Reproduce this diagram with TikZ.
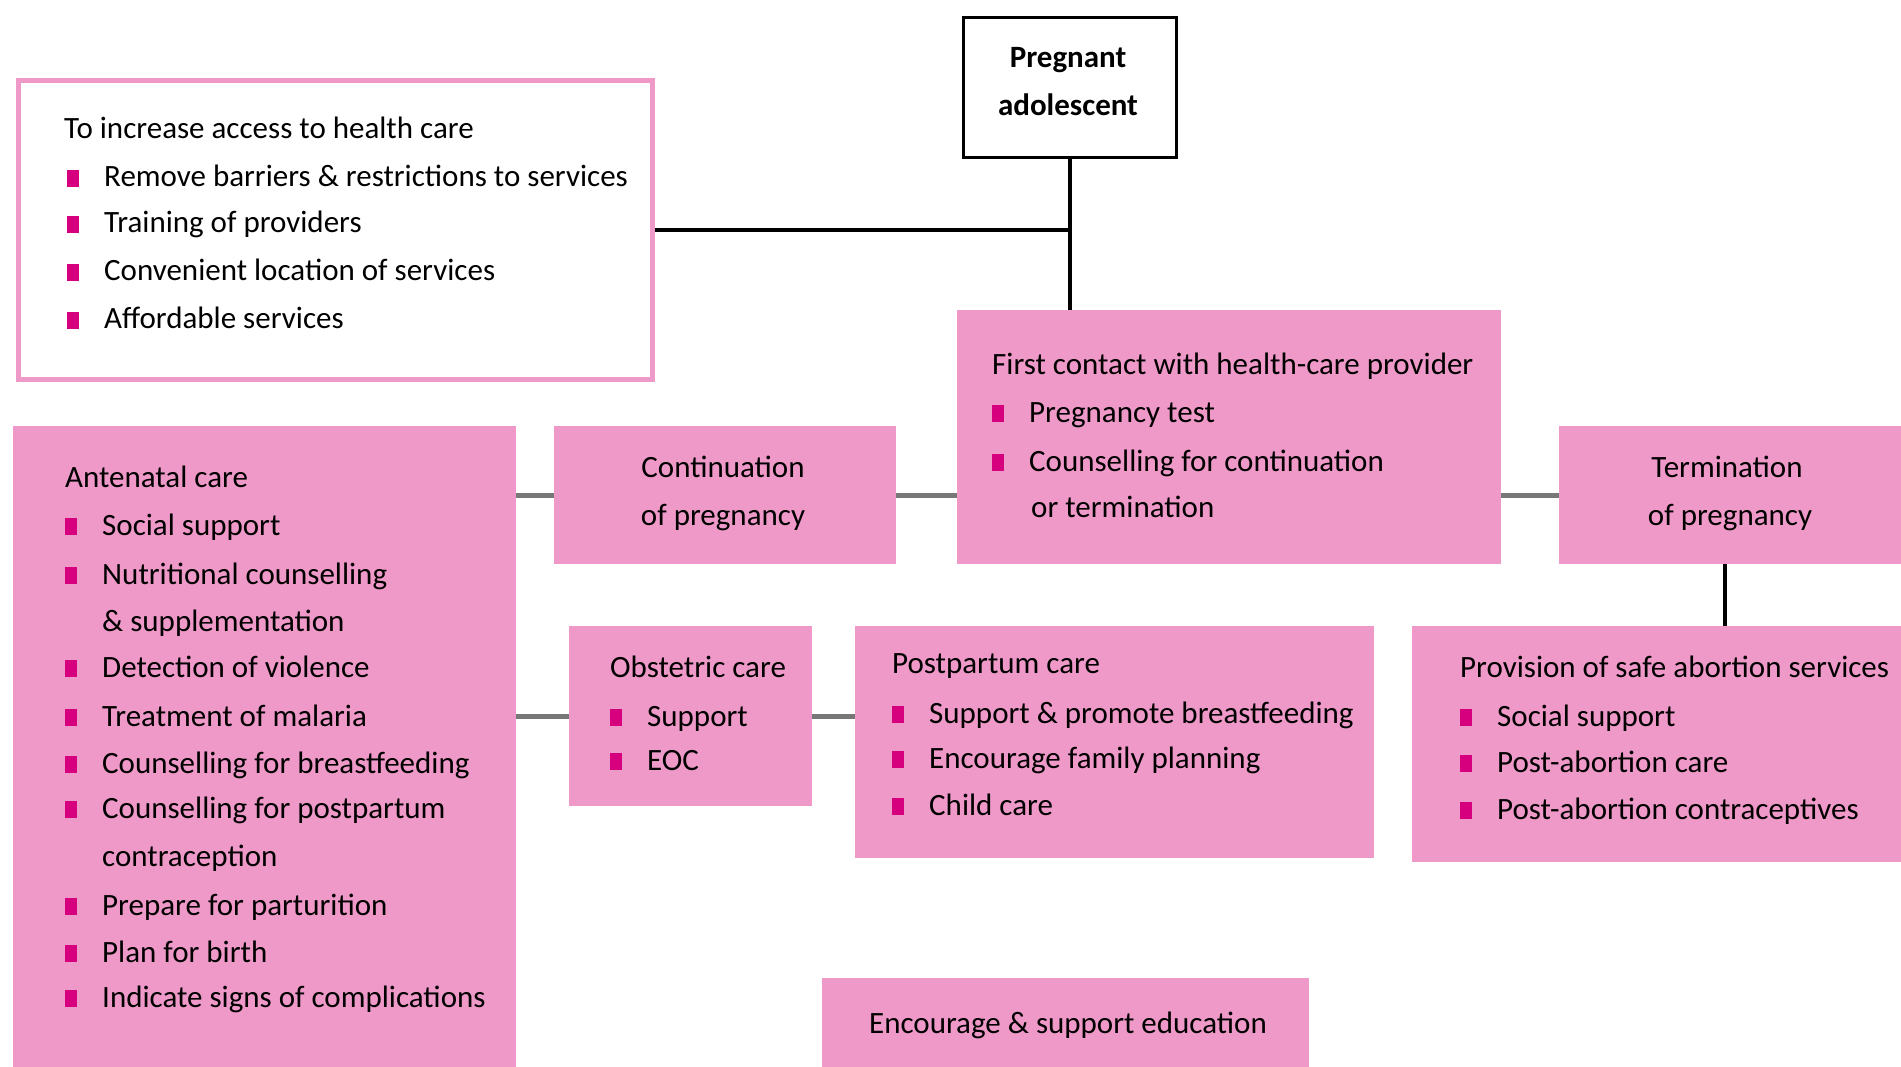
\documentclass[tikz,border=0pt]{standalone}
\usepackage{fontspec}
\setmainfont{Carlito}
\definecolor{pinkfill}{HTML}{EF99C9}
\definecolor{mag}{HTML}{D6007F}
\definecolor{conn}{HTML}{777777}
\newcommand{\sq}{\textcolor{mag}{\rule{12pt}{17pt}}}
\newcommand{\bitem}[1]{\makebox[37pt][l]{\sq}#1}
\begin{document}
\begin{tikzpicture}[x=1pt,y=-1pt,
  pbox/.style={fill=pinkfill, draw=none, anchor=north west, inner sep=0, outer sep=0},
  txt/.style={anchor=base west, inner sep=0, font=\fontsize{31}{36}\selectfont},
  ctxt/.style={anchor=base, inner sep=0, font=\fontsize{31}{36}\selectfont},
  blk/.style={draw=black, line width=4pt},
  gry/.style={draw=conn, line width=5pt}]
\useasboundingbox (0,0) rectangle (1901,1067);
% boxes
\node[draw=black, line width=3pt, fill=white, anchor=north west, inner sep=0,
      minimum width=213pt, minimum height=140pt] (adol) at (961.5,16.5) {};
\node[draw=pinkfill, line width=5pt, fill=white, anchor=north west, inner sep=0,
      minimum width=634pt, minimum height=298pt] (access) at (15.5,78.5) {};
\node[pbox, minimum width=544pt, minimum height=254pt] (first) at (957,310) {};
\node[pbox, minimum width=342pt, minimum height=138pt] (cont) at (554,426) {};
\node[pbox, minimum width=350pt, minimum height=138pt] (term) at (1559,426) {};
\node[pbox, minimum width=503pt, minimum height=650pt] (ante) at (13,426) {};
\node[pbox, minimum width=243pt, minimum height=180pt] (obst) at (569,626) {};
\node[pbox, minimum width=519pt, minimum height=232pt] (post) at (855,626) {};
\node[pbox, minimum width=500pt, minimum height=236pt] (prov) at (1412,626) {};
\node[pbox, minimum width=487pt, minimum height=100pt] (edu) at (822,978) {};
% connectors
\draw[blk] (adol.south) -- (adol.south |- first.north);
\draw[blk] (access.east) -- (access.east -| adol.south);
\draw[gry] (cont.west) -- (cont.west -| ante.east);
\draw[gry] (cont.east) -- (cont.east -| first.west);
\draw[gry] (first.east |- term.west) -- (term.west);
\draw[gry] (obst.west) -- (obst.west -| ante.east);
\draw[gry] (obst.east) -- (obst.east -| post.west);
\draw[blk] ([xshift=166pt]term.south west) -- ([xshift=166pt]term.south west |- prov.north);
% texts: adolescent
\node[ctxt, font=\fontsize{31}{36}\selectfont\bfseries] (adol1) at (1068,68) {Pregnant};
\node[ctxt, font=\fontsize{31}{36}\selectfont\bfseries] (adol2) at (1068,116) {adolescent};
% access
\node[txt] (acc0) at (64,139) {To increase access to health care};
\node[txt] (acc1) at (67,187) {\bitem{Remove barriers \& restrictions to services}};
\node[txt] (acc2) at (67,233) {\bitem{Training of providers}};
\node[txt] (acc3) at (67,281) {\bitem{Convenient location of services}};
\node[txt] (acc4) at (67,329) {\bitem{Affordable services}};
% first contact
\node[txt] (fc0) at (992,374) {First contact with health-care provider};
\node[txt] (fc1) at (992,422) {\bitem{Pregnancy test}};
\node[txt] (fc2) at (992,471) {\bitem{Counselling for continuation}};
\node[txt] (fc3) at (1031,517) {or termination};
% continuation / termination
\node[ctxt] (co1) at (723,477) {Continuation};
\node[ctxt] (co2) at (723,525) {of pregnancy};
\node[ctxt] (te1) at (1727,477) {Termination};
\node[ctxt] (te2) at (1730,525) {of pregnancy};
% antenatal
\node[txt] (an0) at (65,487) {Antenatal care};
\node[txt] (an1) at (65,535) {\bitem{Social support}};
\node[txt] (an2) at (65,584) {\bitem{Nutritional counselling}};
\node[txt] (an2b) at (102,631) {\& supplementation};
\node[txt] (an3) at (65,677) {\bitem{Detection of violence}};
\node[txt] (an4) at (65,726) {\bitem{Treatment of malaria}};
\node[txt] (an5) at (65,773) {\bitem{Counselling for breastfeeding}};
\node[txt] (an6) at (65,818) {\bitem{Counselling for postpartum}};
\node[txt] (an6b) at (102,866) {contraception};
\node[txt] (an7) at (65,915) {\bitem{Prepare for parturition}};
\node[txt] (an8) at (65,962) {\bitem{Plan for birth}};
\node[txt] (an9) at (65,1007) {\bitem{Indicate signs of complications}};
% obstetric
\node[txt] (ob0) at (610,677) {Obstetric care};
\node[txt] (ob1) at (610,726) {\bitem{Support}};
\node[txt] (ob2) at (610,770) {\bitem{EOC}};
% postpartum
\node[txt] (pp0) at (892,673) {Postpartum care};
\node[txt] (pp1) at (892,723) {\bitem{Support \& promote breastfeeding}};
\node[txt] (pp2) at (892,768) {\bitem{Encourage family planning}};
\node[txt] (pp3) at (892,815) {\bitem{Child care}};
% provision
\node[txt] (pv0) at (1460,677) {Provision of safe abortion services};
\node[txt] (pv1) at (1460,726) {\bitem{Social support}};
\node[txt] (pv2) at (1460,772) {\bitem{Post-abortion care}};
\node[txt] (pv3) at (1460,819) {\bitem{Post-abortion contraceptives}};
% education
\node[ctxt] (ed) at (1068,1033) {Encourage \& support education};
\end{tikzpicture}
\end{document}
